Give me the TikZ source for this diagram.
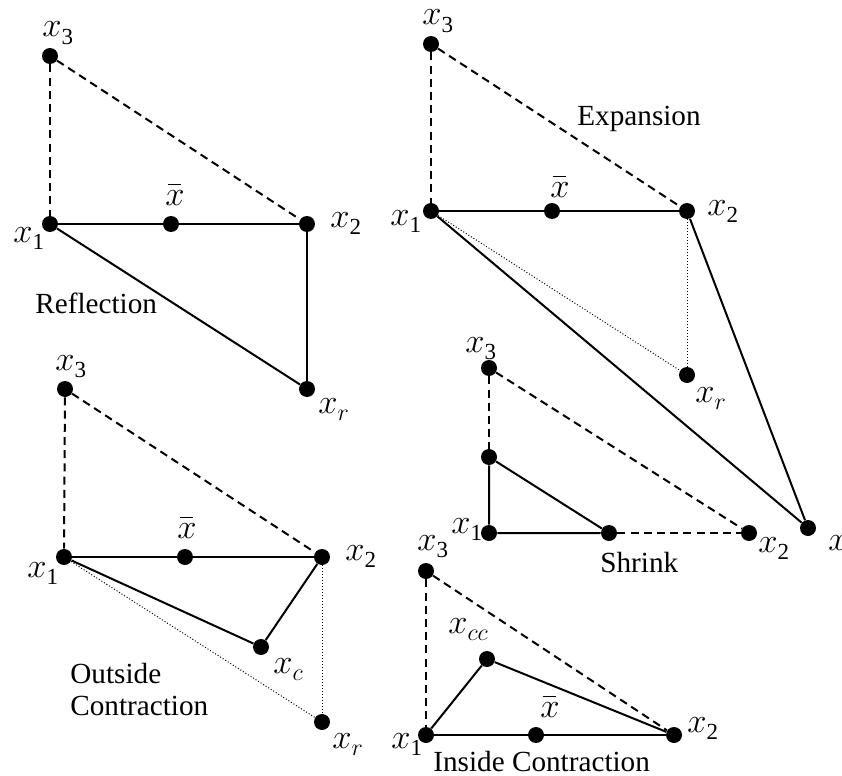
\documentclass[tikz,border=0pt]{standalone}
\usepackage{fontspec}
\setmainfont{Liberation Serif}
\newcommand{\xs}[1]{{\fontsize{16.5}{18}\selectfont$x$\raisebox{-3.75pt}{\fontsize{11.5}{12}\selectfont #1}}}
\newcommand{\xbr}{{\fontsize{16.5}{18}\selectfont\makebox[0pt][l]{\hspace{1.2pt}\rule[10pt]{6.5pt}{0.6pt}}$x$}}
\tikzset{
  pt/.style={circle,fill=black,inner sep=0pt,minimum size=8pt},
  lab/.style={anchor=base west,inner sep=0pt},
  txt/.style={anchor=base west,inner sep=0pt,font=\fontsize{14.6}{17}\selectfont},
  solid edge/.style={line width=1pt},
  dashed edge/.style={line width=1pt,dash pattern=on 4pt off 2.6pt},
  dotted edge/.style={line width=0.5pt,dash pattern=on 0.5pt off 1pt},
}
\begin{document}
\begin{tikzpicture}[x=0.5pt,y=-0.5pt]
\clip (0,0) rectangle (842,776);
% ---------- Reflection ----------
\node[pt] (r3) at (50,56) {};
\node[pt] (r1) at (50,224) {};
\node[pt] (rb) at (171,224) {};
\node[pt] (r2) at (307,224) {};
\node[pt] (rr) at (307,389) {};
\draw[dashed edge] (r3) -- (r1);
\draw[dashed edge] (r3) -- (r2);
\draw[solid edge] (r1) -- (rb) -- (r2);
\draw[solid edge] (r1) -- (rr);
\draw[solid edge] (r2) -- (rr);
\node[lab] (lr3) at (42,37) {\xs{3}};
\node[lab] (lr1) at (13,242) {\xs{1}};
\node[lab] (lrb) at (165,205) {\xbr};
\node[lab] (lr2) at (330,227) {\xs{2}};
\node[lab] (lrr) at (318,413) {\xs{$r$}};
\node[txt] (trefl) at (35,313) {Reflection};
% ---------- Expansion ----------
\node[pt] (e3) at (431,44) {};
\node[pt] (e1) at (431,211) {};
\node[pt] (eb) at (552,211) {};
\node[pt] (e2) at (687,211) {};
\node[pt] (er) at (687,375) {};
\node[pt] (ee) at (808,528) {};
\draw[dashed edge] (e3) -- (e1);
\draw[dashed edge] (e3) -- (e2);
\draw[solid edge] (e1) -- (eb) -- (e2);
\draw[dotted edge] (e1) -- (er);
\draw[dotted edge] (e2) -- (er);
\draw[solid edge] (e1) -- (ee);
\draw[solid edge] (e2) -- (ee);
\node[lab] (le3) at (422,25) {\xs{3}};
\node[lab] (le1) at (390,225) {\xs{1}};
\node[lab] (leb) at (550,197) {\xbr};
\node[lab] (le2) at (707,215) {\xs{2}};
\node[lab] (ler) at (695,402) {\xs{$r$}};
\node[lab] (lee) at (828,550) {\xs{$e$}};
\node[txt] (texp) at (577,125) {Expansion};
% ---------- Shrink ----------
\node[pt] (s3) at (489,368) {};
\node[pt] (sm3) at (489,457) {};
\node[pt] (s1) at (489,533) {};
\node[pt] (sm2) at (609,533) {};
\node[pt] (s2) at (749,533) {};
\draw[dashed edge] (s3) -- (sm3);
\draw[dashed edge] (s3) -- (s2);
\draw[dashed edge] (sm2) -- (s2);
\draw[solid edge] (sm3) -- (s1) -- (sm2) -- (sm3);
\node[lab] (ls3) at (465,352) {\xs{3}};
\node[lab] (ls1) at (451,533) {\xs{1}};
\node[lab] (ls2) at (758,552) {\xs{2}};
\node[txt] (tshr) at (600,572) {Shrink};
% ---------- Inside Contraction ----------
\node[pt] (i3) at (426,571) {};
\node[pt] (i1) at (426,735) {};
\node[pt] (ib) at (536,735) {};
\node[pt] (i2) at (674,735) {};
\node[pt] (icc) at (487,659) {};
\draw[dashed edge] (i3) -- (i1);
\draw[dashed edge] (i3) -- (i2);
\draw[solid edge] (i1) -- (ib) -- (i2);
\draw[solid edge] (i1) -- (icc) -- (i2);
\node[lab] (li3) at (417,550) {\xs{3}};
\node[lab] (licc) at (448,633) {\xs{$cc$}};
\node[lab] (lib) at (540,717) {\xbr};
\node[lab] (li2) at (687,732) {\xs{2}};
\node[lab] (li1) at (391,748) {\xs{1}};
\node[txt] (tins) at (433,771) {Inside Contraction};
% ---------- Outside Contraction ----------
\node[pt] (o3) at (65,389) {};
\node[pt] (o1) at (64,557) {};
\node[pt] (ob) at (185,557) {};
\node[pt] (o2) at (322,557) {};
\node[pt] (oc) at (261,647) {};
\node[pt] (or) at (322,722) {};
\draw[dashed edge] (o3) -- (o1);
\draw[dashed edge] (o3) -- (o2);
\draw[solid edge] (o1) -- (ob) -- (o2);
\draw[solid edge] (o1) -- (oc) -- (o2);
\draw[dotted edge] (o1) -- (or);
\draw[dotted edge] (o2) -- (or);
\node[lab] (lo3) at (55,370) {\xs{3}};
\node[lab] (lo1) at (27,577) {\xs{1}};
\node[lab] (lob) at (177,538) {\xbr};
\node[lab] (lo2) at (345,560) {\xs{2}};
\node[lab] (loc) at (273,673) {\xs{$c$}};
\node[lab] (lor) at (332,748) {\xs{$r$}};
\node[txt] (tout1) at (70,683) {Outside};
\node[txt] (tout2) at (70,715) {Contraction};
\end{tikzpicture}
\end{document}
